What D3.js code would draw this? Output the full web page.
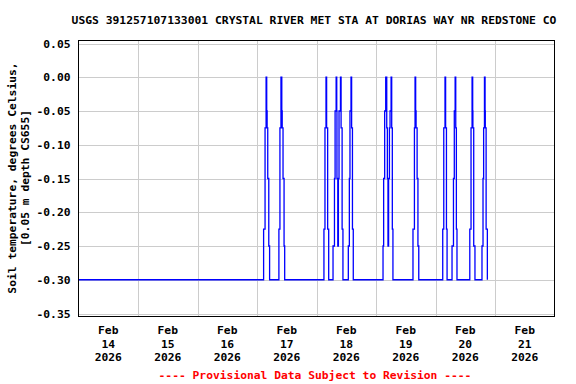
<!DOCTYPE html>
<html><head><meta charset="utf-8">
<script src="https://cdn.jsdelivr.net/npm/d3@7/dist/d3.min.js"></script>
<style>
html,body{margin:0;padding:0;background:#fff;}
svg{display:block;}
text{font-family:"DejaVu Sans Mono","Liberation Mono",monospace;font-weight:bold;}
</style></head>
<body>
<script>
const titleText = "USGS 391257107133001 CRYSTAL RIVER MET STA AT DORIAS WAY NR REDSTONE CO";
const yTitleLines = ["Soil temperature, degrees Celsius,", "[0.05 m depth CS655]"];
const footerText = "---- Provisional Data Subject to Revision ----";
const xDomain = ["2026-02-14T00:00", "2026-02-22T00:00"];
const dayTicks = ["2026-02-14","2026-02-15","2026-02-16","2026-02-17","2026-02-18","2026-02-19","2026-02-20","2026-02-21"];
const dayLabels = [["Feb","14","2026"],["Feb","15","2026"],["Feb","16","2026"],["Feb","17","2026"],["Feb","18","2026"],["Feb","19","2026"],["Feb","20","2026"],["Feb","21","2026"]];
const yTicks = [0.05, 0, -0.05, -0.10, -0.15, -0.20, -0.25, -0.30, -0.35];
const yTickLabels = ["0.05","0.00","-0.05","-0.10","-0.15","-0.20","-0.25","-0.30","-0.35"];

// step series: time of change, value from then on
const times = [
 "2026-02-14T00:00",
 "2026-02-17T02:40","2026-02-17T03:15","2026-02-17T03:40","2026-02-17T03:55","2026-02-17T04:05","2026-02-17T04:20","2026-02-17T04:45","2026-02-17T05:05",
 "2026-02-17T08:50","2026-02-17T09:15","2026-02-17T09:40","2026-02-17T10:00","2026-02-17T10:10","2026-02-17T10:30","2026-02-17T10:55","2026-02-17T11:10",
 "2026-02-18T03:00","2026-02-18T03:25","2026-02-18T03:50","2026-02-18T04:05","2026-02-18T04:30","2026-02-18T04:55",
 "2026-02-18T06:40","2026-02-18T07:15","2026-02-18T07:30","2026-02-18T07:55","2026-02-18T08:10","2026-02-18T08:15","2026-02-18T08:35","2026-02-18T08:50","2026-02-18T09:05","2026-02-18T09:40","2026-02-18T09:55","2026-02-18T10:20","2026-02-18T10:40",
 "2026-02-18T12:50","2026-02-18T13:15","2026-02-18T13:30","2026-02-18T13:55","2026-02-18T14:10","2026-02-18T14:30","2026-02-18T14:50",
 "2026-02-19T02:50","2026-02-19T03:05","2026-02-19T03:30","2026-02-19T03:55","2026-02-19T04:20","2026-02-19T04:35","2026-02-19T04:50","2026-02-19T05:05","2026-02-19T05:25","2026-02-19T05:40","2026-02-19T06:05","2026-02-19T06:20","2026-02-19T06:35","2026-02-19T06:50",
 "2026-02-19T14:55","2026-02-19T15:30","2026-02-19T15:45","2026-02-19T16:00","2026-02-19T16:10","2026-02-19T16:35","2026-02-19T16:55","2026-02-19T17:15",
 "2026-02-20T02:55","2026-02-20T03:20","2026-02-20T03:50","2026-02-20T04:05","2026-02-20T04:25","2026-02-20T04:40",
 "2026-02-20T06:40","2026-02-20T07:15","2026-02-20T07:35","2026-02-20T07:55","2026-02-20T08:10","2026-02-20T08:25","2026-02-20T08:40",
 "2026-02-20T13:50","2026-02-20T14:20","2026-02-20T14:45","2026-02-20T15:00","2026-02-20T15:05","2026-02-20T15:25","2026-02-20T15:55",
 "2026-02-20T18:45","2026-02-20T19:10","2026-02-20T19:25","2026-02-20T19:45","2026-02-20T20:00","2026-02-20T20:05","2026-02-20T20:25","2026-02-20T20:55"
];
const values = [
 -0.30,
 -0.225,-0.075,0.00,-0.05,-0.075,-0.15,-0.25,-0.30,
 -0.225,-0.075,0.00,-0.05,-0.075,-0.15,-0.25,-0.30,
 -0.225,-0.075,0.00,-0.075,-0.225,-0.30,
 -0.25,-0.15,-0.05,0.00,-0.05,-0.15,-0.25,-0.15,-0.05,0.00,-0.075,-0.225,-0.30,
 -0.25,-0.15,-0.05,0.00,-0.075,-0.225,-0.30,
 -0.25,-0.15,-0.05,0.00,-0.075,-0.15,-0.25,-0.15,-0.075,-0.05,0.00,-0.075,-0.225,-0.30,
 -0.225,-0.075,0.00,-0.05,-0.075,-0.15,-0.25,-0.30,
 -0.225,-0.075,0.00,-0.075,-0.225,-0.30,
 -0.25,-0.15,-0.05,0.00,-0.075,-0.225,-0.30,
 -0.225,-0.075,0.00,-0.05,-0.075,-0.25,-0.30,
 -0.25,-0.15,-0.075,0.00,-0.05,-0.075,-0.225,-0.30
];

const W = 576, H = 384;
const pLeft = 78.5, pRight = 554.5, pTop = 40, pBottom = 316;
const parse = d3.utcParse("%Y-%m-%dT%H:%M");
const parseDay = d3.utcParse("%Y-%m-%d");

const svg = d3.select("body").append("svg").attr("width", W).attr("height", H);

const x = d3.scaleUtc().domain(xDomain.map(parse)).range([pLeft, pRight]);
const y = d3.scaleLinear().domain([0.05, -0.35]).range([43.5, 313.5]);

// gridlines
const grid = svg.append("g").attr("stroke", "#cccccc").attr("stroke-width", 1).attr("shape-rendering", "crispEdges");
grid.selectAll("line.h").data(yTicks).join("line").attr("class","h")
  .attr("x1", pLeft).attr("x2", pRight)
  .attr("y1", d => Math.round(y(d)) + 0.5).attr("y2", d => Math.round(y(d)) + 0.5);
grid.selectAll("line.v").data(dayTicks.slice(1)).join("line").attr("class","v")
  .attr("x1", d => Math.round(x(parseDay(d))) + 0.5).attr("x2", d => Math.round(x(parseDay(d))) + 0.5)
  .attr("y1", pTop).attr("y2", pBottom);

// data line
const data = times.map((t, i) => ({t: parse(t), v: values[i]}));
svg.append("path").datum(data)
  .attr("fill", "none").attr("stroke", "#0000ff").attr("stroke-width", 1.3)
  .attr("d", d3.line().x(d => x(d.t)).y(d => y(d.v)).curve(d3.curveStepAfter));

// frame
svg.append("rect").attr("x", pLeft).attr("y", pTop + 0.5).attr("width", pRight - pLeft).attr("height", pBottom - pTop)
  .attr("fill", "none").attr("stroke", "#000").attr("stroke-width", 1).attr("shape-rendering", "crispEdges");

// y axis labels via d3 axis
const yAxis = d3.axisLeft(y).tickValues(yTicks).tickSize(0).tickPadding(8)
  .tickFormat((d, i) => yTickLabels[i]);
const gy = svg.append("g").attr("transform", `translate(${pLeft},0)`).call(yAxis);
gy.select(".domain").remove();
gy.selectAll("text").attr("font-size", "11.3px").attr("font-family", "DejaVu Sans Mono, monospace")
  .attr("font-weight", "bold").attr("fill", "#000");

// x labels (centered at noon)
const xl = svg.append("g");
dayTicks.forEach((d, i) => {
  const cx = x(d3.utcHour.offset(parseDay(d), 12));
  const t = xl.append("text").attr("x", cx).attr("text-anchor", "middle").attr("font-size", "11.3px").attr("fill", "#000");
  dayLabels[i].forEach((s, j) => {
    t.append("tspan").attr("x", cx).attr("y", 334 + j * 13.7).text(s);
  });
});

// title
svg.append("text").attr("x", 314).attr("y", 24).attr("text-anchor", "middle")
  .attr("font-size", "11.35px").attr("fill", "#000").text(titleText);

// y title
const yt = svg.append("text").attr("transform", "translate(16,178) rotate(-90)")
  .attr("text-anchor", "middle").attr("font-size", "11.3px").attr("fill", "#000");
yTitleLines.forEach((s, j) => yt.append("tspan").attr("x", 0).attr("y", j * 12.5).text(s));

// footer
svg.append("text").attr("x", 315).attr("y", 379).attr("text-anchor", "middle")
  .attr("font-size", "11.3px").attr("fill", "#ff0000").text(footerText);
</script>
</body></html>
